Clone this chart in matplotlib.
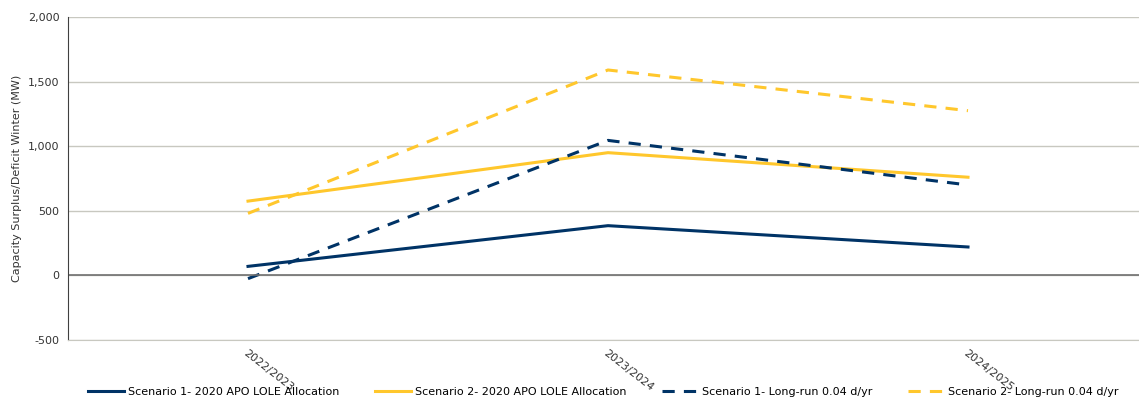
import matplotlib.pyplot as plt

# Datos
anios = ['2022/2023', '2023/2024', '2024/2025']
esc1_apo = [70, 385, 220]
esc2_apo = [575, 950, 760]
esc1_largo = [-25, 1045, 700]
esc2_largo = [480, 1590, 1275]

azul = '#003366'
amarillo = '#FFC72C'

fig = plt.figure(figsize=(11.39, 4.07), dpi=100)
ax = fig.add_axes([0.0597, 0.1646, 0.9403, 0.7936])

x = range(len(anios))
ax.plot(x, esc1_apo, color=azul, lw=2.2, label='Scenario 1- 2020 APO LOLE Allocation')
ax.plot(x, esc2_apo, color=amarillo, lw=2.2, label='Scenario 2- 2020 APO LOLE Allocation')
ax.plot(x, esc1_largo, color=azul, lw=2.2, ls=(0, (4, 3)), label='Scenario 1- Long-run 0.04 d/yr')
ax.plot(x, esc2_largo, color=amarillo, lw=2.2, ls=(0, (4, 3)), label='Scenario 2- Long-run 0.04 d/yr')

ax.set_ylim(-500, 2000)
ax.set_xlim(-0.5, 2.475)
ax.set_yticks(range(-500, 2001, 500))
ax.set_yticklabels([f'{v:,}' for v in range(-500, 2001, 500)], fontsize=8, color='#333333')
ax.yaxis.grid(True, color='#C8C8C0', lw=1)
ax.axhline(0, color='#707070', lw=1.2)
ax.set_axisbelow(True)

ax.set_xticks(list(x))
ax.set_xticklabels(anios, fontsize=8, color='#333333', rotation=-38,
                   ha='left', va='top', rotation_mode='anchor')
ax.tick_params(axis='both', length=0, pad=6)

for lado in ['top', 'right']:
    ax.spines[lado].set_visible(False)
ax.spines['bottom'].set_color('#C8C8C0')
ax.spines['left'].set_color('#404040')

ax.set_ylabel('Capacity Surplus/Deficit Winter (MW)', fontsize=8, color='#333333')

ax.legend(loc='upper center', bbox_to_anchor=(0.5, -0.115), ncol=4, frameon=False,
          fontsize=8, handlelength=3.2, handletextpad=0.4, columnspacing=3.2)

plt.savefig('out.png', dpi=100)
